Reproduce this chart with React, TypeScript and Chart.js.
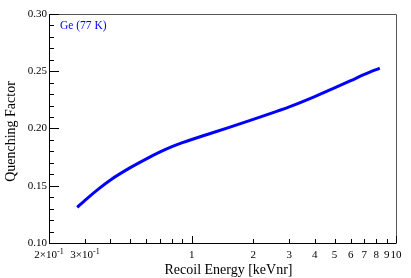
import { useEffect, useRef } from "react";
import { Chart, registerables } from "chart.js";

Chart.register(...registerables);

// Data
const energy = [0.275, 0.3, 0.35, 0.4, 0.5, 0.6, 0.7, 0.8, 0.9, 1, 1.2, 1.5, 2, 2.5, 3, 4, 5, 6, 7, 8.33];
const quenching = [0.1312, 0.1373, 0.1473, 0.1551, 0.1658, 0.1735, 0.1795, 0.1841, 0.1876, 0.1904, 0.195, 0.2006, 0.208, 0.2139, 0.2189, 0.2279, 0.2355, 0.2418, 0.2472, 0.2528];

const seriesLabel = "Ge (77 K)";
const xTitle = "Recoil Energy [keVnr]";
const yTitle = "Quenching Factor";

const xMin = 0.2;
const xMax = 10;
const yMin = 0.1;
const yMax = 0.3;
const yStep = 0.05;
const yMinorStep = 0.01;

const xTickValues = [0.2, 0.3, 0.4, 0.5, 0.6, 0.7, 0.8, 0.9, 1, 2, 3, 4, 5, 6, 7, 8, 9, 10];
const xMajorTickValues = [1, 10];
const xLabelValues = [0.2, 0.3, 1, 2, 3, 4, 5, 6, 7, 8, 9, 10];
const xLabels = ["2×10^{-1}", "3×10^{-1}", "1", "2", "3", "4", "5", "6", "7", "8", "9", "10"];

const FONT = '"Liberation Serif", "Times New Roman", serif';
const BLUE = "#0000ff";

const rootStyle = {
  id: "rootStyle",
  afterDraw(chart: any) {
    const ctx = chart.ctx as CanvasRenderingContext2D;
    const area = chart.chartArea;
    const xs = chart.scales.x;
    const ys = chart.scales.y;
    ctx.save();

    // frame
    ctx.lineWidth = 1;
    ctx.strokeStyle = "#000";
    ctx.beginPath();
    ctx.moveTo(Math.round(area.left) + 0.5, Math.round(area.top) + 0.5);
    ctx.lineTo(Math.round(area.left) + 0.5, Math.round(area.bottom) + 0.5);
    ctx.lineTo(Math.round(area.right) + 0.5, Math.round(area.bottom) + 0.5);
    ctx.stroke();
    ctx.strokeStyle = "#555";
    ctx.beginPath();
    ctx.moveTo(Math.round(area.left) + 0.5, Math.round(area.top) + 0.5);
    ctx.lineTo(Math.round(area.right) + 0.5, Math.round(area.top) + 0.5);
    ctx.lineTo(Math.round(area.right) + 0.5, Math.round(area.bottom) + 0.5);
    ctx.stroke();

    // y ticks (inward)
    ctx.strokeStyle = "#000";
    ctx.beginPath();
    const nY = Math.round((yMax - yMin) / yMinorStep);
    for (let i = 0; i <= nY; i++) {
      const v = yMin + i * yMinorStep;
      const major = i % Math.round(yStep / yMinorStep) === 0;
      const py = Math.round(ys.getPixelForValue(v)) + 0.5;
      const len = major ? 10 : 5;
      ctx.moveTo(area.left, py);
      ctx.lineTo(area.left + len, py);
    }
    ctx.stroke();

    // x ticks (inward)
    ctx.beginPath();
    xTickValues.forEach((v) => {
      const px = Math.round(xs.getPixelForValue(v)) + 0.5;
      const len = xMajorTickValues.includes(v) ? 7 : 4;
      ctx.moveTo(px, area.bottom);
      ctx.lineTo(px, area.bottom - len);
    });
    ctx.stroke();

    // x labels with superscripts
    ctx.fillStyle = "#000";
    ctx.textBaseline = "alphabetic";
    ctx.textAlign = "left";
    xLabelValues.forEach((v, i) => {
      const lab = xLabels[i];
      const m = lab.match(/^(.*)\^\{(.*)\}$/);
      const base = m ? m[1] : lab;
      const sup = m ? m[2] : "";
      ctx.font = `11px ${FONT}`;
      const wb = ctx.measureText(base).width;
      ctx.font = `8px ${FONT}`;
      const ws = sup ? ctx.measureText(sup).width : 0;
      const total = wb + ws;
      const px = xs.getPixelForValue(v);
      const x0 = px - total / 2;
      const baseY = area.bottom + 15;
      ctx.font = `11px ${FONT}`;
      ctx.fillText(base, x0, baseY);
      if (sup) {
        ctx.font = `8px ${FONT}`;
        ctx.fillText(sup, x0 + wb, baseY - 4.5);
      }
    });

    // axis titles
    ctx.font = `14px ${FONT}`;
    ctx.textAlign = "center";
    ctx.textBaseline = "middle";
    ctx.fillText(xTitle, (area.left + area.right) / 2 + 6, area.bottom + 27);
    ctx.save();
    ctx.translate(11, (area.top + area.bottom) / 2 + 3);
    ctx.rotate(-Math.PI / 2);
    ctx.fillText(yTitle, 0, 0);
    ctx.restore();

    // legend text
    ctx.fillStyle = BLUE;
    ctx.font = `11.5px ${FONT}`;
    ctx.textAlign = "left";
    ctx.textBaseline = "middle";
    ctx.fillText(seriesLabel, area.left + 11, area.top + 12);

    ctx.restore();
  },
};

export default function App() {
  const ref = useRef<HTMLCanvasElement | null>(null);

  useEffect(() => {
    if (!ref.current) return;
    const points = energy.map((e, i) => ({ x: e, y: quenching[i] }));
    const chart = new Chart(ref.current, {
      type: "line",
      data: {
        datasets: [
          {
            label: seriesLabel,
            data: points,
            borderColor: BLUE,
            backgroundColor: BLUE,
            borderWidth: 3,
            pointRadius: 0,
            fill: false,
            cubicInterpolationMode: "monotone",
          },
        ],
      },
      options: {
        animation: false,
        responsive: false,
        devicePixelRatio: 1,
        layout: { padding: { left: 0, top: 14, right: 15, bottom: 0 } },
        plugins: {
          legend: { display: false },
          tooltip: { enabled: false },
          title: { display: false },
        },
        scales: {
          x: {
            type: "logarithmic",
            min: xMin,
            max: xMax,
            grid: { display: false, drawTicks: false },
            border: { display: false },
            ticks: { display: false },
            afterFit: (s: any) => {
              s.height = 35;
            },
          },
          y: {
            type: "linear",
            min: yMin,
            max: yMax,
            grid: { display: false, drawTicks: false },
            border: { display: false },
            ticks: {
              stepSize: yStep,
              padding: 2,
              color: "#000",
              font: { family: FONT, size: 11 },
              callback: (v: any) => Number(v).toFixed(2),
            },
            afterFit: (s: any) => {
              s.width = 49;
            },
          },
        },
      } as any,
      plugins: [rootStyle],
    });
    return () => chart.destroy();
  }, []);

  return (
    <div style={{ position: "fixed", left: 0, top: 0, width: 411, height: 278, background: "#fff" }}>
      <canvas ref={ref} width={411} height={278} style={{ width: 411, height: 278, display: "block" }} />
    </div>
  );
}
